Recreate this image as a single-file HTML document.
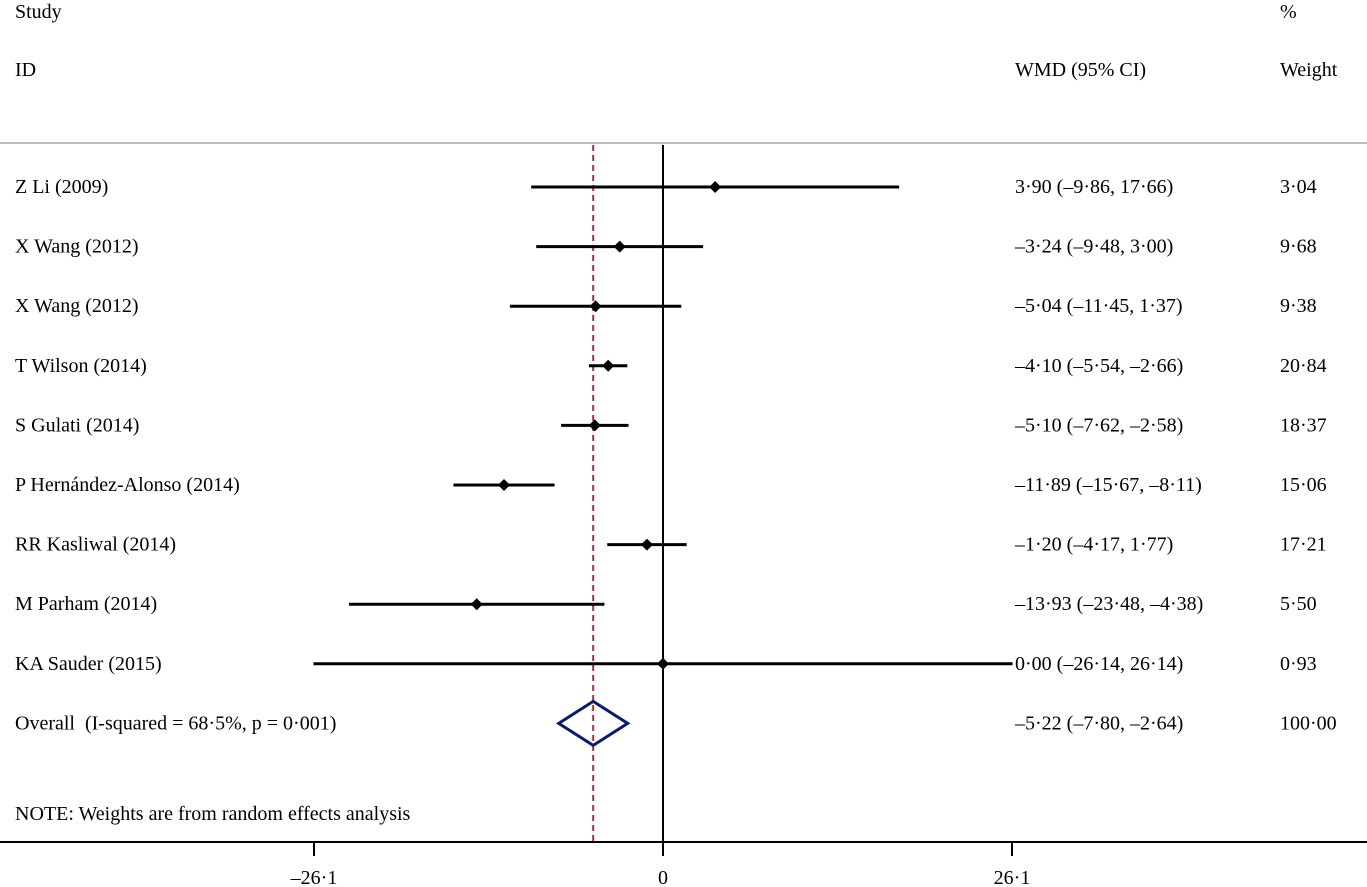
<!DOCTYPE html>
<html><head><meta charset="utf-8"><style>
html,body{margin:0;padding:0;background:#fff;}
svg{display:block;font-family:"Liberation Serif",serif;}
</style></head><body>
<svg id="chart" width="1367" height="887" viewBox="0 0 1367 887">
<g font-size="20" fill="#000">
<text x="15" y="18">Study</text>
<text x="15" y="76">ID</text>
<text x="1015" y="76">WMD (95% CI)</text>
<text x="1280" y="18">%</text>
<text x="1280" y="76">Weight</text>
<text x="15" y="820">NOTE: Weights are from random effects analysis</text>
</g>
<line x1="0" y1="143" x2="1367" y2="143" stroke="#bbb" stroke-width="2"/>
<g id="plot"></g>
</svg>
<script>
const studies=["Z Li (2009)","X Wang (2012)","X Wang (2012)","T Wilson (2014)","S Gulati (2014)","P Hernández-Alonso (2014)","RR Kasliwal (2014)","M Parham (2014)","KA Sauder (2015)"];
const est=[3.90,-3.24,-5.04,-4.10,-5.10,-11.89,-1.20,-13.93,0.00];
const lo=[-9.86,-9.48,-11.45,-5.54,-7.62,-15.67,-4.17,-23.48,-26.14];
const hi=[17.66,3.00,1.37,-2.66,-2.58,-8.11,1.77,-4.38,26.14];
const weights=["3·04","9·68","9·38","20·84","18·37","15·06","17·21","5·50","0·93"];
const overall=[-5.22,-7.80,-2.64];
const overallLabel="Overall\u00a0\u00a0(I-squared = 68·5%, p = 0·001)";
const overallWeight="100·00";
const ticks=[-26.1,0,26.1];
const tickLabels=["–26·1","0","26·1"];

const FS=20;
const xs=v=>663+v*(349/26.1);
const ys=i=>187+i*59.6;
const NS="http://www.w3.org/2000/svg";
const g=document.getElementById('plot');
function mk(t,a){const e=document.createElementNS(NS,t);for(const k in a)e.setAttribute(k,a[k]);g.appendChild(e);return e;}
const fmt=v=>(v<0?"–":"")+Math.abs(v).toFixed(2).replace('.','·');

let e;
e=mk('line',{x1:xs(overall[0]),x2:xs(overall[0]),y1:145,y2:842,stroke:'#a03040','stroke-width':2,'stroke-dasharray':'6,4'});


e=mk('line',{x1:xs(0),x2:xs(0),y1:145,y2:842,stroke:'#000','stroke-width':2});


e=mk('line',{x1:0,x2:1367,y1:842,y2:842,stroke:'#000','stroke-width':2});


ticks.forEach((t,i)=>{
 e=mk('line',{x1:xs(t),x2:xs(t),y1:842,y2:856,stroke:'#000','stroke-width':2});
 
 
 e=mk('text',{x:xs(t),y:884,'text-anchor':'middle','font-size':FS});
 e.textContent=tickLabels[i];
 
 
});
studies.forEach((s,i)=>{
 const y=ys(i);
 e=mk('line',{x1:xs(lo[i]),x2:xs(hi[i]),y1:y,y2:y,stroke:'#000','stroke-width':3});
 
 
 const x=xs(est[i]);
 e=mk('polygon',{points:`${x},${y-6} ${x+6},${y} ${x},${y+6} ${x-6},${y}`,fill:'#000'});
 
 
 e=mk('text',{x:15,y:y+6,'font-size':FS});e.textContent=s;
 
 
 e=mk('text',{x:1015,y:y+6,'font-size':FS});e.textContent=`${fmt(est[i])} (${fmt(lo[i])}, ${fmt(hi[i])})`;
 
 
 e=mk('text',{x:1280,y:y+6,'font-size':FS});e.textContent=weights[i];
 
 
});
const oy=ys(studies.length);
const [m,l,h]=overall.map(xs);
e=mk('polygon',{points:`${l},${oy} ${m},${oy-22} ${h},${oy} ${m},${oy+22}`,fill:'none',stroke:'#0a1a6e','stroke-width':3});


e=mk('text',{x:15,y:oy+6,'font-size':FS});e.textContent=overallLabel;


e=mk('text',{x:1015,y:oy+6,'font-size':FS});e.textContent=`${fmt(overall[0])} (${fmt(overall[1])}, ${fmt(overall[2])})`;


e=mk('text',{x:1280,y:oy+6,'font-size':FS});e.textContent=overallWeight;


</script>
</body></html>
